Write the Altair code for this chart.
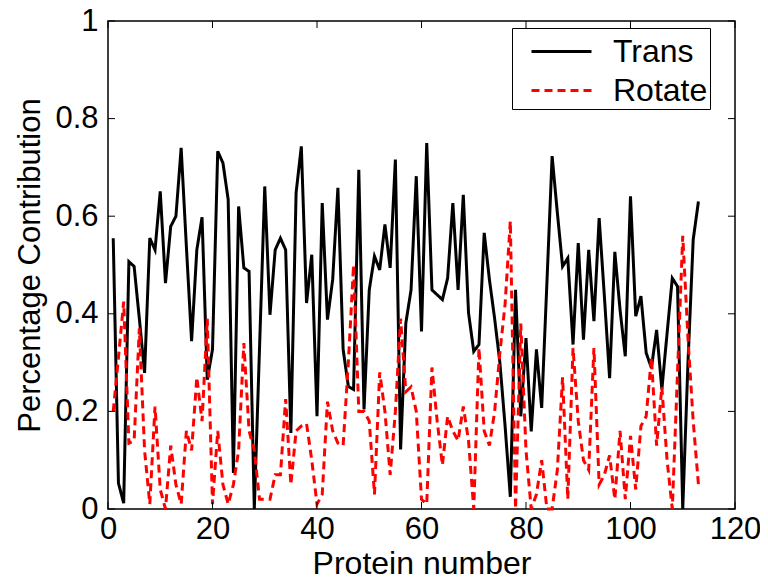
import altair as alt
import pandas as pd

protein = list(range(1, 114))

trans = [
    0.555, 0.053, 0.012, 0.507, 0.497, 0.39, 0.279, 0.555, 0.531, 0.651,
    0.463, 0.579, 0.60, 0.74, 0.538, 0.344, 0.531, 0.598, 0.265, 0.327,
    0.733, 0.709, 0.634, 0.074, 0.62, 0.494, 0.487, 0.0, 0.33, 0.661,
    0.398, 0.531, 0.555, 0.531, 0.156, 0.648, 0.743, 0.422, 0.521, 0.19,
    0.627, 0.388, 0.47, 0.658, 0.327, 0.251, 0.245, 0.695, 0.204, 0.449,
    0.518, 0.49, 0.583, 0.494, 0.716, 0.122, 0.381, 0.449, 0.682, 0.364,
    0.75, 0.449, 0.439, 0.429, 0.473, 0.627, 0.449, 0.644, 0.402, 0.323,
    0.337, 0.566, 0.47, 0.39, 0.30, 0.17, 0.025, 0.449, 0.19, 0.35,
    0.159, 0.327, 0.207, 0.463, 0.723, 0.607, 0.497, 0.514, 0.337, 0.545,
    0.347, 0.531, 0.385, 0.596, 0.436, 0.268, 0.527, 0.408, 0.313, 0.641,
    0.395, 0.436, 0.32, 0.289, 0.367, 0.245, 0.36, 0.473, 0.456, 0.0,
    0.30, 0.552, 0.63,
]

rotate = [
    0.20, 0.31, 0.425, 0.135, 0.14, 0.37, 0.12, 0.01, 0.21, 0.04,
    0.0, 0.13, 0.05, 0.01, 0.16, 0.12, 0.27, 0.18, 0.39, 0.01,
    0.16, 0.05, 0.01, 0.05, 0.12, 0.34, 0.16, 0.12, 0.02, 0.02,
    0.02, 0.07, 0.07, 0.225, 0.05, 0.16, 0.17, 0.175, 0.10, 0.01,
    0.03, 0.22, 0.16, 0.135, 0.13, 0.30, 0.50, 0.20, 0.20, 0.18,
    0.03, 0.28, 0.20, 0.07, 0.20, 0.39, 0.24, 0.25, 0.20, 0.02,
    0.01, 0.29, 0.18, 0.09, 0.19, 0.16, 0.14, 0.21, 0.14, 0.0,
    0.33, 0.16, 0.13, 0.20, 0.32, 0.42, 0.59, 0.0, 0.38, 0.12,
    0.0, 0.03, 0.10, 0.0, 0.0, 0.08, 0.27, 0.02, 0.33, 0.18,
    0.10, 0.08, 0.33, 0.05, 0.07, 0.11, 0.02, 0.16, 0.02, 0.15,
    0.04, 0.17, 0.19, 0.31, 0.13, 0.25, 0.10, 0.0, 0.28, 0.56,
    0.35, 0.18, 0.05,
]

series_names = ["Trans", "Rotate"]
x_ticks = [0, 20, 40, 60, 80, 100, 120]
y_ticks = [0, 0.2, 0.4, 0.6, 0.8, 1]

df = pd.DataFrame({
    "Protein": protein * 2,
    "Value": trans + rotate,
    "Series": ["Trans"] * len(trans) + ["Rotate"] * len(rotate),
})
xt = pd.DataFrame({"Protein": x_ticks})
yt = pd.DataFrame({"Value": y_ticks})

W, H = 627, 488
FONT = "Liberation Sans"
TICK = 7

xscale = alt.Scale(domain=[0, 120], nice=False, zero=False)
yscale = alt.Scale(domain=[0, 1], nice=False, zero=False)

x_axis = alt.Axis(values=x_ticks, title="Protein number", format="d",
                  labelPadding=5, labelFlush=False, titleFontSize=32,
                  titleY=64, titleBaseline="alphabetic")
y_axis = alt.Axis(values=y_ticks, title="Percentage Contribution",
                  format="~g", labelPadding=10, titleFontSize=31,
                  titleX=-78, titleY=H / 2, titleAngle=270,
                  titleAlign="center", titleBaseline="middle")

legend = alt.Legend(
    title=None, orient="none", legendX=404, legendY=7,
    symbolType="M-1.5,0L1.5,0", symbolSize=1600, symbolStrokeWidth=3,
    symbolOffset=26,
    labelFont=FONT, labelFontSize=32, labelColor="black", labelOffset=30,
    strokeColor="black", fillColor="white", padding=2, rowPadding=1,
    cornerRadius=0,
)

lines = alt.Chart(df).mark_line(strokeWidth=3).encode(
    x=alt.X("Protein:Q", scale=xscale, axis=x_axis),
    y=alt.Y("Value:Q", scale=yscale, axis=y_axis),
    color=alt.Color("Series:N",
                    scale=alt.Scale(domain=series_names, range=["#000000", "#ff0000"]),
                    legend=legend),
    strokeDash=alt.StrokeDash("Series:N",
                              scale=alt.Scale(domain=series_names, range=[[1, 0], [8, 5]]),
                              legend=legend),
)

tick_style = dict(color="black", strokeWidth=1)
bottom_ticks = alt.Chart(xt).mark_rule(**tick_style).encode(
    x=alt.X("Protein:Q", scale=xscale, axis=x_axis), y=alt.value(H), y2=alt.value(H - TICK))
top_ticks = alt.Chart(xt).mark_rule(**tick_style).encode(
    x=alt.X("Protein:Q", scale=xscale, axis=x_axis), y=alt.value(0), y2=alt.value(TICK))
left_ticks = alt.Chart(yt).mark_rule(**tick_style).encode(
    y=alt.Y("Value:Q", scale=yscale, axis=y_axis), x=alt.value(0), x2=alt.value(TICK))
right_ticks = alt.Chart(yt).mark_rule(**tick_style).encode(
    y=alt.Y("Value:Q", scale=yscale, axis=y_axis), x=alt.value(W), x2=alt.value(W - TICK))

chart = alt.layer(
    lines, bottom_ticks, top_ticks, left_ticks, right_ticks
).properties(
    width=W, height=H,
    autosize=alt.AutoSizeParams(type="none"),
    padding={"left": 100, "top": 13, "right": 25, "bottom": 65},
).configure_view(
    stroke="black", strokeWidth=1.5
).configure_axis(
    labelFont=FONT, labelFontSize=31, labelColor="black",
    titleFont=FONT, titleColor="black", titleFontWeight="normal",
    tickSize=0, domain=False, grid=False,
)

chart.save("out.html", embed_options={"renderer": "svg", "actions": False})
